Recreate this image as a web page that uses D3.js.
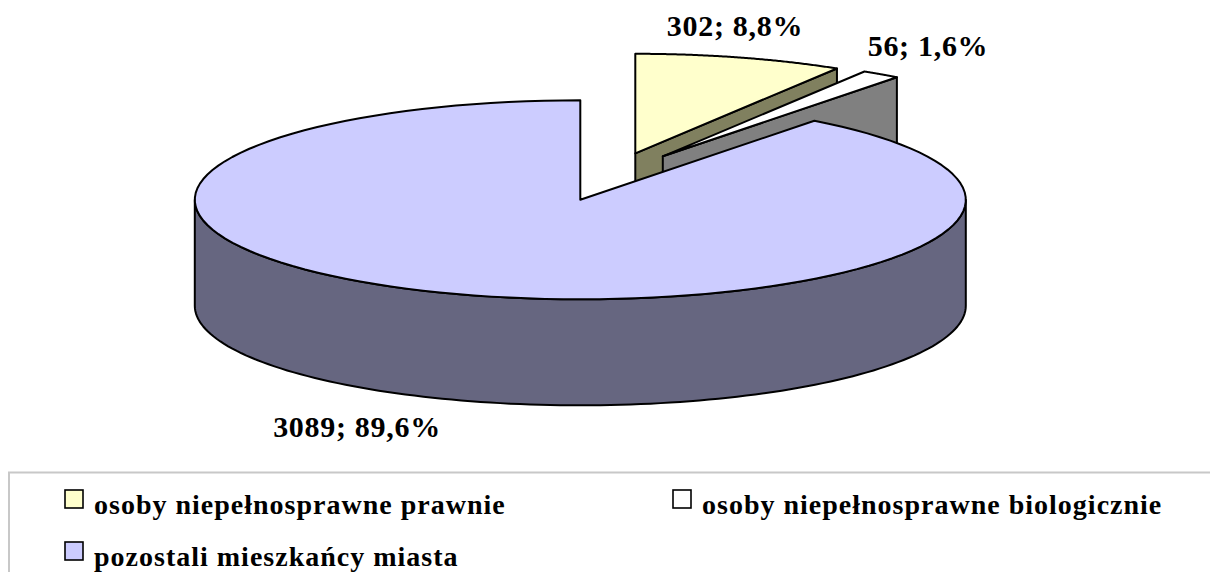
<!DOCTYPE html>
<html>
<head>
<meta charset="utf-8">
<script src="https://cdn.jsdelivr.net/npm/d3@7"></script>
<style>
    body { margin:0; background:white; }
    svg { display:block; }
    text { font-family:"Liberation Serif", serif; font-weight:bold; fill:black; }
    .label { font-size:30px; letter-spacing:0.7px; }
    .legendText { font-size:28px; letter-spacing:1px; }
</style>
</head>
<body>
<svg></svg>
<script>
var categories = ["osoby niepełnosprawne prawnie", "osoby niepełnosprawne biologicznie", "pozostali mieszkańcy miasta"];
var values = [302, 56, 3089];
var valueLabels = ["302; 8,8%", "56; 1,6%", "3089; 89,6%"];

var topColors = ["#FFFFCC", "#FFFFFF", "#CCCCFF"];
var wallColors = ["#80805F", "#808080", "#666680"];

var screen = {width:1210, height:572};

//the pie is squashed into an ellipse, these are its radii and depth
var pieShape = {cx:580.3, cy:199.8, rx:385.5, ry:99.5, depth:106};

//how far each slice is pulled away from the center
var explode = [{x:55, y:-46.5}, {x:82.5, y:-43.5}, {x:0, y:0}];

var labelPos = [{x:735, y:36}, {x:928, y:56}, {x:357, y:437}];
var legendPos = [{x:65, y:490}, {x:673, y:490}, {x:65, y:542}];

var svg = d3.select("svg")
    .attr("width", screen.width)
    .attr("height", screen.height);

var slices = d3.pie().sort(null)(values);

var xScale = d3.scaleLinear().domain([-1, 1])
    .range([pieShape.cx - pieShape.rx, pieShape.cx + pieShape.rx]);
var yScale = d3.scaleLinear().domain([-1, 1])
    .range([pieShape.cy + pieShape.ry, pieShape.cy - pieShape.ry]);

var line = d3.line();

//point on the rim at an angle, clockwise from 12 o'clock
var rim = function(angle, i, drop)
{
    return [xScale(Math.sin(angle)) + explode[i].x,
            yScale(Math.cos(angle)) + explode[i].y + drop];
}

var rimPoints = function(a0, a1, i, drop)
{
    return d3.range(0, 121).map(function(k)
    {
        return rim(a0 + (a1 - a0) * k / 120, i, drop);
    });
}

var apex = function(i, drop)
{
    return [xScale(0) + explode[i].x, yScale(0) + explode[i].y + drop];
}

var pie3d = svg.append("g").classed("pie", true)
    .attr("stroke", "black")
    .attr("stroke-width", 2)
    .attr("stroke-linejoin", "round");

slices.forEach(function(slice, i)
{
    var g = pie3d.append("g");

    //wall along the cut at the end of the slice
    if (slice.endAngle < Math.PI)
    {
        g.append("path")
            .attr("fill", wallColors[i])
            .attr("d", line([apex(i, 0), rim(slice.endAngle, i, 0),
                             rim(slice.endAngle, i, pieShape.depth), apex(i, pieShape.depth)]) + "Z");
    }

    //outer wall, only the front half of the rim can be seen
    var from = Math.max(slice.startAngle, Math.PI / 2);
    var to = Math.min(slice.endAngle, Math.PI * 1.5);
    if (from < to)
    {
        g.append("path")
            .attr("fill", wallColors[i])
            .attr("d", line(rimPoints(from, to, i, 0)
                .concat(rimPoints(to, from, i, pieShape.depth))) + "Z");
    }

    g.append("path")
        .attr("fill", topColors[i])
        .attr("d", line([apex(i, 0)].concat(rimPoints(slice.startAngle, slice.endAngle, i, 0))) + "Z");
});

svg.append("g").classed("labels", true)
    .selectAll("text")
    .data(valueLabels)
    .enter()
    .append("text")
    .classed("label", true)
    .attr("text-anchor", "middle")
    .attr("x", function(d, i) { return labelPos[i].x; })
    .attr("y", function(d, i) { return labelPos[i].y; })
    .text(function(d) { return d; });

//legend frame runs off the picture at the right and bottom
svg.append("path")
    .attr("fill", "none")
    .attr("stroke", "#C8C8C8")
    .attr("stroke-width", 2)
    .attr("d", "M1210,472.5H9V572");

var legend = svg.append("g").classed("legend", true)
    .selectAll("g")
    .data(categories)
    .enter()
    .append("g")
    .attr("transform", function(d, i) { return "translate(" + legendPos[i].x + "," + legendPos[i].y + ")"; });

legend.append("rect")
    .attr("width", 18)
    .attr("height", 18)
    .attr("fill", function(d, i) { return topColors[i]; })
    .attr("stroke", "black")
    .attr("stroke-width", 1.6);

legend.append("text")
    .classed("legendText", true)
    .attr("x", 29)
    .attr("y", 24)
    .text(function(d) { return d; });
</script>
</body>
</html>
